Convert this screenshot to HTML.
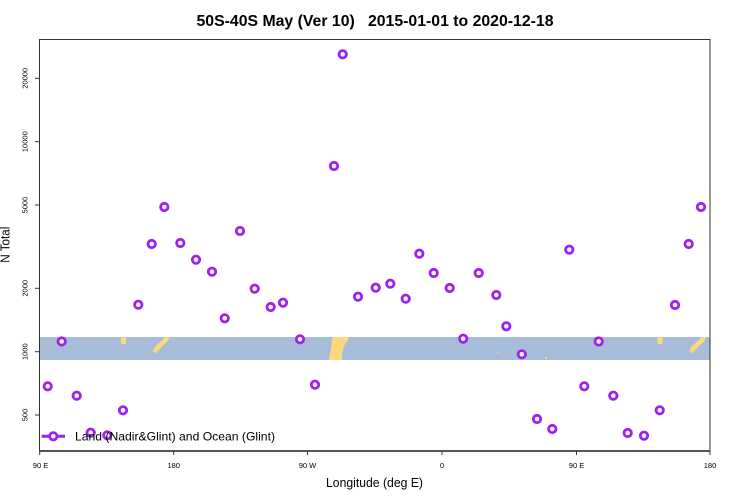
<!DOCTYPE html>
<html>
<head>
<meta charset="utf-8">
<style>
html,body{margin:0;padding:0;background:#fff;}
svg{display:block;}
text{font-family:"Liberation Sans",Arial,sans-serif;fill:#000;}
</style>
</head>
<body>
<svg width="750" height="500" viewBox="0 0 750 500" xmlns="http://www.w3.org/2000/svg">
  <rect x="0" y="0" width="750" height="500" fill="#fff"/>
  <text x="375" y="26" text-anchor="middle" font-size="16" font-weight="bold" xml:space="preserve" textLength="357" lengthAdjust="spacingAndGlyphs">50S-40S May (Ver 10)   2015-01-01 to 2020-12-18</text>

  <rect x="39" y="337" width="671" height="23" fill="#a7bcd9"/>
  <g fill="#fcd77c">
    <rect x="121" y="337.5" width="5" height="6.5"/>
    <polygon points="165,337 169.5,337 168,341 163,345.5 159,350 155.5,353 152.5,351.5 154.5,347 159.5,342.5 163.5,339"/>
    <polygon points="333,337 349,337 348,340 345,344 343,349 342,354 342,360 329,360 329.5,355 331,349 331.5,344 332,340"/>
    <rect x="497.5" y="351.5" width="1.5" height="1.5"/>
    <rect x="545" y="357" width="2" height="2"/>
    <rect x="657.5" y="337.5" width="5" height="6.5"/>
    <polygon points="701.5,337 706,337 704.5,341 699.5,345.5 695.5,350 692,353 689,351.5 691,347 696,342.5 700,339"/>
  </g>

  <rect x="39.5" y="39.5" width="670.5" height="411" fill="none" stroke="#333" stroke-width="1"/>
  <line x1="39" y1="451" x2="710" y2="451" stroke="#555" stroke-width="2"/>

  <g stroke="#333" stroke-width="1">
    <line x1="35" y1="78.3" x2="39" y2="78.3"/>
    <line x1="35" y1="141.7" x2="39" y2="141.7"/>
    <line x1="35" y1="205" x2="39" y2="205"/>
    <line x1="35" y1="288.3" x2="39" y2="288.3"/>
    <line x1="35" y1="351.7" x2="39" y2="351.7"/>
    <line x1="35" y1="415" x2="39" y2="415"/>
  </g>
  <g font-size="7.5" text-anchor="middle">
    <text transform="translate(27.5,78.3) rotate(-90)">20000</text>
    <text transform="translate(27.5,141.7) rotate(-90)">10000</text>
    <text transform="translate(27.5,205) rotate(-90)">5000</text>
    <text transform="translate(27.5,288.3) rotate(-90)">2000</text>
    <text transform="translate(27.5,351.7) rotate(-90)">1000</text>
    <text transform="translate(27.5,415) rotate(-90)">500</text>
  </g>

  <g stroke="#333" stroke-width="1">
    <line x1="39.7" y1="451" x2="39.7" y2="455"/>
    <line x1="173.7" y1="451" x2="173.7" y2="455"/>
    <line x1="307.5" y1="451" x2="307.5" y2="455"/>
    <line x1="442" y1="451" x2="442" y2="455"/>
    <line x1="576.5" y1="451" x2="576.5" y2="455"/>
    <line x1="710" y1="451" x2="710" y2="455"/>
  </g>
  <g font-size="7.5" text-anchor="middle">
    <text x="40.5" y="468">90 E</text>
    <text x="173.7" y="468">180</text>
    <text x="307.5" y="468">90 W</text>
    <text x="442" y="468">0</text>
    <text x="576.5" y="468">90 E</text>
    <text x="710" y="468">180</text>
  </g>

  <text x="374.5" y="487" font-size="13" text-anchor="middle" textLength="97" lengthAdjust="spacingAndGlyphs">Longitude (deg E)</text>
  <text transform="translate(9.5,244.7) rotate(-90)" font-size="13" text-anchor="middle" textLength="36" lengthAdjust="spacingAndGlyphs">N Total</text>

  <g fill="#fff" stroke="#a020f0" stroke-width="2.8">
    <circle cx="47.7" cy="386.3" r="3.7"/>
    <circle cx="61.7" cy="341.5" r="3.7"/>
    <circle cx="76.7" cy="395.7" r="3.7"/>
    <circle cx="90.7" cy="432.7" r="3.7"/>
    <circle cx="107.3" cy="435.3" r="3.7"/>
    <circle cx="123" cy="410.3" r="3.7"/>
    <circle cx="138.3" cy="304.7" r="3.7"/>
    <circle cx="151.7" cy="244" r="3.7"/>
    <circle cx="164.3" cy="207" r="3.7"/>
    <circle cx="180.3" cy="243" r="3.7"/>
    <circle cx="196" cy="259.7" r="3.7"/>
    <circle cx="212" cy="271.7" r="3.7"/>
    <circle cx="224.7" cy="318.3" r="3.7"/>
    <circle cx="240" cy="231" r="3.7"/>
    <circle cx="254.7" cy="288.7" r="3.7"/>
    <circle cx="270.7" cy="307" r="3.7"/>
    <circle cx="283" cy="302.7" r="3.7"/>
    <circle cx="300" cy="339.3" r="3.7"/>
    <circle cx="315" cy="384.7" r="3.7"/>
    <circle cx="334" cy="166" r="3.7"/>
    <circle cx="342.7" cy="54.3" r="3.7"/>
    <circle cx="358" cy="296.7" r="3.7"/>
    <circle cx="375.7" cy="287.7" r="3.7"/>
    <circle cx="390.3" cy="283.7" r="3.7"/>
    <circle cx="405.7" cy="298.7" r="3.7"/>
    <circle cx="419.3" cy="253.7" r="3.7"/>
    <circle cx="433.7" cy="273" r="3.7"/>
    <circle cx="449.7" cy="288" r="3.7"/>
    <circle cx="463.2" cy="338.7" r="3.7"/>
    <circle cx="478.7" cy="273" r="3.7"/>
    <circle cx="496.3" cy="295" r="3.7"/>
    <circle cx="506.3" cy="326.3" r="3.7"/>
    <circle cx="521.8" cy="354.3" r="3.7"/>
    <circle cx="537" cy="419" r="3.7"/>
    <circle cx="552.3" cy="429" r="3.7"/>
    <circle cx="569.3" cy="249.7" r="3.7"/>
    <circle cx="584.3" cy="386.3" r="3.7"/>
    <circle cx="598.7" cy="341.5" r="3.7"/>
    <circle cx="613.3" cy="395.7" r="3.7"/>
    <circle cx="627.7" cy="433" r="3.7"/>
    <circle cx="644" cy="435.7" r="3.7"/>
    <circle cx="659.7" cy="410.3" r="3.7"/>
    <circle cx="675" cy="305" r="3.7"/>
    <circle cx="688.7" cy="244" r="3.7"/>
    <circle cx="701" cy="207" r="3.7"/>
  </g>

  <line x1="41.7" y1="436.3" x2="65" y2="436.3" stroke="#a020f0" stroke-width="3"/>
  <circle cx="53.3" cy="436.3" r="3.7" fill="#fff" stroke="#a020f0" stroke-width="2.8"/>
  <text x="75" y="440.7" font-size="12" textLength="200" lengthAdjust="spacingAndGlyphs">Land (Nadir&amp;Glint) and Ocean (Glint)</text>
</svg>
</body>
</html>
